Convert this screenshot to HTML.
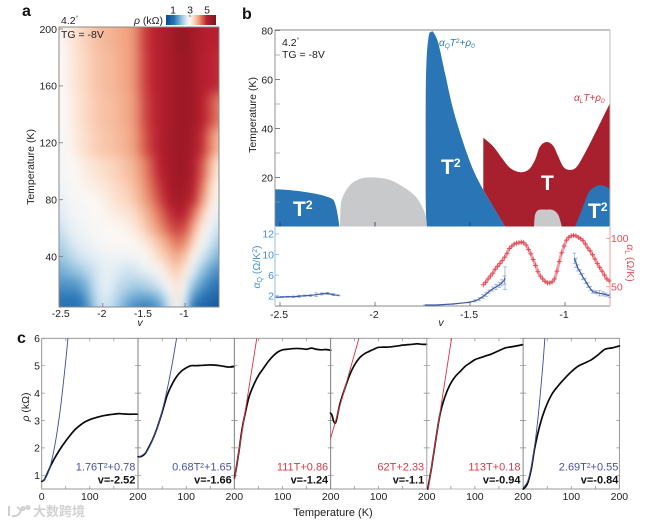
<!DOCTYPE html>
<html lang="en">
<head>
<meta charset="utf-8">
<title>Resistivity phase diagram</title>
<style>
html,body{margin:0;padding:0;background:#fff;}
svg{display:block;font-family:"Liberation Sans","Noto Sans CJK SC",sans-serif;}
text{fill:#222;font-size:10.5px;}
</style>
</head>
<body>
<svg id="fig" width="646" height="523" viewBox="0 0 646 523" xmlns="http://www.w3.org/2000/svg">
<defs>
<filter id="mapBlur" filterUnits="userSpaceOnUse" x="0" y="0" width="300" height="400" color-interpolation-filters="sRGB"><feGaussianBlur stdDeviation="4 5.5"/></filter>
<clipPath id="mapClip"><rect x="59" y="27" width="160" height="280"/></clipPath>
<linearGradient id="cbarGrad" x1="0" x2="1" y1="0" y2="0"></linearGradient>
</defs>

<text x="22" y="16" style="font-size:16px;font-weight:bold;fill:#111">a</text>
<text x="242" y="19" style="font-size:16px;font-weight:bold;fill:#111">b</text>
<text x="17" y="343" style="font-size:16px;font-weight:bold;fill:#111">c</text>

<g id="panelA">
<g clip-path="url(#mapClip)"><g id="mapCells" filter="url(#mapBlur)"></g></g>
<rect x="59" y="27" width="160" height="280" fill="none" stroke="#8a8a8a" stroke-width="1"/>
<rect x="166" y="15" width="50" height="10" fill="url(#cbarGrad)"/>
<text x="61" y="24">4.2<tspan dy="-4" style="font-size:6px">°</tspan></text>
<text x="61" y="38">TG = -8V</text>
<text x="134" y="24"><tspan font-style="italic">ρ</tspan> (kΩ)</text>
<text transform="translate(34,167) rotate(-90)" text-anchor="middle">Temperature (K)</text>
<text x="140" y="326" text-anchor="middle" font-style="italic">v</text>
</g>

<g id="panelB"></g>
<g>
<text x="293" y="216" style="font-size:21px;font-weight:bold;fill:#fff">T<tspan dy="-7" style="font-size:12px;fill:#fff">2</tspan></text>
<text x="441" y="174" style="font-size:21px;font-weight:bold;fill:#fff">T<tspan dy="-7" style="font-size:12px;fill:#fff">2</tspan></text>
<text x="588" y="218" style="font-size:21px;font-weight:bold;fill:#fff">T<tspan dy="-7" style="font-size:12px;fill:#fff">2</tspan></text>
<text x="541" y="190" style="font-size:21px;font-weight:bold;fill:#fff">T</text>
<text x="439" y="46" style="font-size:10px;font-style:italic;fill:#2a7ab8">α<tspan dy="2" style="font-size:6.5px;fill:#2a7ab8">Q</tspan><tspan dy="-2" style="fill:#2a7ab8">T</tspan><tspan dy="-3" style="font-size:6.5px;fill:#2a7ab8">2</tspan><tspan dy="3" style="fill:#2a7ab8">+ρ</tspan><tspan dy="2" style="font-size:6.5px;fill:#2a7ab8">0</tspan></text>
<text x="574" y="101" style="font-size:10px;font-style:italic;fill:#d23a46">α<tspan dy="2" style="font-size:6.5px;fill:#d23a46">L</tspan><tspan dy="-2" style="fill:#d23a46">T+ρ</tspan><tspan dy="2" style="font-size:6.5px;fill:#d23a46">0</tspan></text>
<text x="282" y="46">4.2<tspan dy="-4" style="font-size:6px">°</tspan></text>
<text x="282" y="58">TG = -8V</text>
<text transform="translate(256,115) rotate(-90)" text-anchor="middle">Temperature (K)</text>
<text x="441" y="326" text-anchor="middle" font-style="italic">v</text>
<text transform="translate(260,267) rotate(-90)" text-anchor="middle" style="font-size:10.5px;fill:#4a92c9"><tspan font-style="italic" style="fill:#4a92c9">α</tspan><tspan dy="2" style="font-size:7px;fill:#4a92c9">Q</tspan><tspan dy="-2" style="fill:#4a92c9"> (Ω/K</tspan><tspan dy="-3" style="font-size:7px;fill:#4a92c9">2</tspan><tspan dy="3" style="fill:#4a92c9">)</tspan></text>
<text transform="translate(627,263) rotate(90)" text-anchor="middle" style="font-size:10.5px;fill:#e0505c"><tspan font-style="italic" style="fill:#e0505c">α</tspan><tspan dy="2" style="font-size:7px;fill:#e0505c">L</tspan><tspan dy="-2" style="fill:#e0505c"> (Ω/K)</tspan></text>
</g>

<g id="panelC"></g>
<text x="333" y="516" text-anchor="middle" style="font-size:11px">Temperature (K)</text>
<text transform="translate(29,407) rotate(-90)" text-anchor="middle"><tspan font-style="italic">ρ</tspan> (kΩ)</text>

<g>
<path d="M9 506v10M12 516q7 1 9-6l-4-3M23 507a1.5 1.5 0 1 0 .1 0M28 506a1.5 1.5 0 1 0 .1 0" fill="none" stroke="#cfcfcf" stroke-width="2"/>
<text x="33" y="516" style="font-size:13px;font-weight:bold;fill:#d2d2d2;font-family:'Liberation Sans','Noto Sans CJK SC',sans-serif">大数跨境</text>
</g>
</svg>

<script>
// ---------- panel a data ----------
const mapV = [-2.5,-2.4,-2.3,-2.2,-2.1,-2.0,-1.9,-1.8,-1.7,-1.6,-1.5,-1.4,-1.3,-1.2,-1.1,-1.0,-0.9,-0.8,-0.7,-0.6];
const mapT = [200,170,140,120,100,90,80,70,60,50,40,30,20,10,4];
const mapRho = [
[3.05,3.2,3.4,3.55,3.7,3.8,3.85,3.95,4.0,4.2,4.7,4.95,5.1,5.3,5.6,5.7,5.4,5.2,5.05,5.0],
[3.0,3.15,3.35,3.5,3.65,3.75,3.8,3.9,4.0,4.2,4.65,4.95,5.1,5.3,5.5,5.6,5.4,5.1,5.0,4.9],
[3.0,3.1,3.3,3.45,3.6,3.7,3.75,3.85,3.95,4.15,4.6,4.9,5.1,5.3,5.5,5.55,5.4,5.1,4.7,4.3],
[2.95,3.05,3.25,3.4,3.55,3.65,3.7,3.8,3.9,4.1,4.5,4.85,5.1,5.35,5.5,5.55,5.3,4.9,4.3,3.8],
[2.9,3.0,3.05,3.2,3.3,3.4,3.5,3.6,3.75,3.9,4.2,4.6,5.0,5.3,5.55,5.5,5.15,4.6,3.9,3.2],
[2.85,2.95,3.0,3.1,3.15,3.25,3.35,3.5,3.6,3.8,4.1,4.45,4.85,5.2,5.5,5.4,5.05,4.4,3.6,3.05],
[2.8,2.9,2.95,3.0,3.02,3.1,3.25,3.4,3.5,3.7,4.0,4.3,4.7,5.1,5.4,5.3,4.9,4.15,3.4,2.95],
[2.65,2.85,2.9,2.95,3.0,3.05,3.12,3.2,3.3,3.45,3.75,4.05,4.4,4.8,5.05,4.95,4.4,3.65,3.1,2.75],
[2.5,2.75,2.85,2.9,2.95,3.0,3.02,3.05,3.1,3.25,3.55,3.85,4.15,4.5,4.75,4.6,3.95,3.2,2.85,2.5],
[2.3,2.55,2.7,2.8,2.9,2.95,3.0,3.0,3.0,3.05,3.2,3.45,3.75,4.05,4.35,4.15,3.5,2.95,2.6,2.2],
[2.1,2.3,2.5,2.6,2.7,2.8,2.85,2.85,2.85,2.9,3.0,3.15,3.45,3.7,3.95,3.65,3.05,2.6,2.2,1.85],
[1.8,1.95,2.1,2.3,2.5,2.7,2.7,2.6,2.5,2.55,2.7,2.85,3.05,3.35,3.6,3.2,2.7,2.1,1.7,1.45],
[1.5,1.5,1.6,1.9,2.4,2.7,2.65,2.4,2.3,2.2,2.25,2.4,2.6,2.95,3.3,2.85,2.1,1.6,1.3,1.1],
[1.2,1.15,1.2,1.6,2.3,2.6,2.5,2.2,1.9,1.7,1.65,1.7,2.0,2.6,3.2,2.6,1.5,1.1,0.95,0.8],
[1.05,1.0,1.05,1.4,2.1,2.5,2.4,2.0,1.6,1.35,1.25,1.3,1.6,2.4,3.1,2.4,1.1,0.8,0.65,0.5]
];
const mapXTicks = [-2.5,-2,-1.5,-1];
const mapYTicks = [40,80,120,160,200];
const cbarTicks = [1,3,5];
// ---------- panel b data ----------
const blueLeftV = [-2.526,-2.474,-2.395,-2.316,-2.263,-2.221,-2.205,-2.195,-2.187];
const blueLeftT = [15.2,15,14.4,13.4,12.4,11,8,4,0];
const grayV = [-2.184,-2.179,-2.158,-2.121,-2.068,-2.0,-1.921,-1.842,-1.779,-1.737,-1.726];
const grayT = [0,9.5,14,17.7,19.7,20,19,15.7,11.6,5.4,0];
const blueMainV = [-1.728,-1.733,-1.733,-1.728,-1.716,-1.705,-1.693,-1.667,-1.632,-1.588,-1.535,-1.483,-1.430,-1.377,-1.316];
const blueMainT = [0,10.8,51.6,69.2,78.2,79.4,79.3,74.9,62.7,47.6,34.1,23.1,14.9,8.1,0];
const redTopV = [-1.430,-1.377,-1.333,-1.289,-1.237,-1.193,-1.158,-1.132,-1.096,-1.062,-1.035,-1.009,-0.974,-0.938,-0.895,-0.833,-0.763];
const redTopT = [36.2,32.6,28,23.9,22.2,23.1,27.1,32.6,34.5,32.9,28.5,24.4,23.1,24.4,30,39.4,50.4];
const blueRightV = [-0.947,-0.912,-0.877,-0.842,-0.816,-0.780,-0.763];
const blueRightT = [0,6.7,13.7,16.2,16.9,16.2,14.9];
const graySmallV = [-1.163,-1.158,-1.141,-1.1,-1.062,-1.035,-1.017];
const graySmallT = [0,4.7,6.7,6.9,6.7,4.7,0];
const phaseYTicks = [20,40,60,80];
const phaseYMinor = [10,30,50,70];
const phaseXTicks = [-2.5,-2,-1.5,-1];
const alphaQTicks = [2,6,10,14];
const alphaQTickLabels = ['2','6','10','12'];
const alphaLTicks = [50,100];
const alphaQLeftV = [-2.52,-2.49,-2.46,-2.43,-2.40,-2.37,-2.34,-2.31,-2.28,-2.25,-2.22,-2.19];
const alphaQLeft = [1.7,1.75,1.8,1.8,1.9,2.0,2.05,2.2,2.35,2.45,2.2,2.05];
const alphaQLeftErr = [0.1,0.1,0.1,0.15,0.2,0.15,0.2,0.35,0.2,0.2,0.2,0.1];
const alphaQMidV = [-1.737,-1.679,-1.591,-1.504,-1.474,-1.451,-1.432,-1.416,-1.4,-1.381,-1.363,-1.346,-1.332,-1.319,-1.316];
const alphaQMid = [0.19,0.19,0.39,0.72,1.0,1.36,1.85,2.27,2.8,3.3,3.7,4.08,4.5,5.05,5.4];
const alphaQMidErr = [0.02,0.02,0.05,0.1,0.2,0.3,0.4,0.4,0.3,0.4,0.5,0.5,0.6,0.8,2.2];
const alphaQRightV = [-0.951,-0.942,-0.933,-0.92,-0.907,-0.893,-0.880,-0.867,-0.854,-0.836,-0.819,-0.80,-0.785,-0.767];
const alphaQRight = [9.26,8.4,7.38,6.6,5.69,4.9,4.08,3.4,2.78,2.65,2.47,2.35,2.2,2.0];
const alphaQRightErr = [1.0,0.9,0.6,0.5,0.6,0.5,0.5,0.4,0.3,0.3,0.5,0.4,0.3,0.3];
const alphaLV0 = -1.43;
const alphaLStep = 0.0125;
const alphaL = [52,54.5,58,61,64,68,71,74,77,80.5,84.5,89.5,92,94,95,95.5,96,95.5,93,88.5,84,78,72,65.5,61,58,55.5,54,54,55,58,66,76,85,92,98,101,102.5,103,102.5,101,99.5,97.5,94,90,87,83,78.5,74,70,66,62,58,56];
// ---------- panel c data ----------
const curveLabels = ['1.76T²+0.78','0.68T²+1.65','111T+0.86','62T+2.33','113T+0.18','2.69T²+0.55'];
const gateLabels = ['v=-2.52','v=-1.66','v=-1.24','v=-1.1','v=-0.94','v=-0.84'];
const curveTicksX = ['0','100','200'];
const curveTicksY = [1,2,3,4,5,6];
const temps1 = [0,5,10,15,20,30,40,50,60,70,80,90,100,110,120,130,140,150,160,170,180,190,200];
const rho1 = [0.78,0.83,1.0,1.2,1.4,1.72,2.0,2.25,2.48,2.68,2.83,2.95,3.03,3.09,3.14,3.18,3.21,3.23,3.25,3.24,3.23,3.23,3.23];
const temps2 = [0,5,10,15,20,30,40,50,60,70,80,90,100,110,120,130,140,150,160,170,180,190,200];
const rho2 = [1.68,1.68,1.72,1.8,1.95,2.3,2.75,3.3,3.9,4.3,4.6,4.8,4.92,5.0,5.0,5.01,5.02,5.03,5.02,5.0,4.97,4.95,4.97];
const temps3 = [0,5,10,15,20,30,40,50,60,70,80,90,100,110,120,130,140,150,160,170,180,190,200];
const rho3 = [0.9,1.4,1.97,2.6,3.08,3.85,4.3,4.65,4.9,5.15,5.35,5.5,5.58,5.6,5.62,5.63,5.62,5.6,5.64,5.6,5.58,5.59,5.56];
const temps4 = [0,3,6,9,12,20,30,40,50,60,70,80,90,100,120,140,150,170,180,190,200];
const rho4 = [3.27,3.2,3.0,2.9,3.0,3.63,4.18,4.67,5.03,5.28,5.43,5.52,5.6,5.67,5.68,5.72,5.75,5.78,5.8,5.78,5.78];
const temps5 = [2,10,20,28,38,48,59,70,80,90,100,118,135,150,163,180,200];
const rho5 = [0.5,1.3,2.45,3.27,3.88,4.3,4.6,4.8,4.98,5.1,5.22,5.33,5.43,5.55,5.65,5.7,5.77];
const temps6 = [0,5,10,17,24,35,45,59,72,87,100,114,128,142,156,170,185,200];
const rho6 = [0.5,0.58,0.75,1.25,2.0,2.85,3.4,3.94,4.25,4.55,4.78,4.98,5.1,5.22,5.4,5.6,5.65,5.72];
const fitT1 = [0,10,20,30,40,50,54.5];
const fitR1 = [0.78,0.956,1.484,2.364,3.596,5.18,6];
const fitT2 = [0,20,40,50,60,70,80];
const fitR2 = [1.65,1.92,2.74,3.35,4.1,4.98,6];
const fitT3 = [0,46.3];
const fitR3 = [0.86,6];
const fitT4 = [0,59.2];
const fitR4 = [2.33,6];
const fitT5 = [2.8,51.5];
const fitR5 = [0.5,6];
const fitT6 = [0,10,20,30,40,45];
const fitR6 = [0.55,0.82,1.63,2.97,4.85,6];

// ---------- helpers ----------
const NS = 'http://www.w3.org/2000/svg';
function add(parent, tag, attrs, txt) {
  const el = document.createElementNS(NS, tag);
  for (const k in attrs) el.setAttribute(k, attrs[k]);
  if (txt !== undefined) el.textContent = txt;
  parent.appendChild(el);
  return el;
}
function smooth(pts, t) {
  let d = 'M' + pts[0][0].toFixed(2) + ' ' + pts[0][1].toFixed(2);
  for (let i = 0; i < pts.length - 1; i++) {
    const p0 = pts[Math.max(i - 1, 0)], p1 = pts[i], p2 = pts[i + 1], p3 = pts[Math.min(i + 2, pts.length - 1)];
    const c1x = p1[0] + (p2[0] - p0[0]) * t, c1y = p1[1] + (p2[1] - p0[1]) * t;
    const c2x = p2[0] - (p3[0] - p1[0]) * t, c2y = p2[1] - (p3[1] - p1[1]) * t;
    d += 'C' + c1x.toFixed(2) + ' ' + c1y.toFixed(2) + ' ' + c2x.toFixed(2) + ' ' + c2y.toFixed(2) + ' ' + p2[0].toFixed(2) + ' ' + p2[1].toFixed(2);
  }
  return d;
}
const cmapRho = [0.3,1.2,2,2.6,3,3.5,4,4.5,5,5.6,6.1];
const cmapCol = [[15,76,143],[42,120,184],[143,192,222],[220,234,244],[251,248,245],[251,214,191],[241,165,131],[217,96,79],[185,32,48],[154,24,36],[127,21,32]];
function colorOf(v) {
  if (v <= cmapRho[0]) return 'rgb(' + cmapCol[0].join(',') + ')';
  for (let i = 0; i < cmapRho.length - 1; i++) {
    if (v <= cmapRho[i + 1]) {
      const f = (v - cmapRho[i]) / (cmapRho[i + 1] - cmapRho[i]);
      const c = cmapCol[i].map((a, j) => Math.round(a + (cmapCol[i + 1][j] - a) * f));
      return 'rgb(' + c.join(',') + ')';
    }
  }
  return 'rgb(' + cmapCol[cmapCol.length - 1].join(',') + ')';
}

// ---------- panel a ----------
const mapX = v => 185 + (v + 1) * 82.2;
const mapY = t => 29 + (200 - t) * 1.4225;
const cbarX = r => 173 + (r - 1) * 8.5;
const panelA = document.getElementById('panelA');
const mapCells = document.getElementById('mapCells');
mapT.forEach((t, r) => {
  const top = r === 0 ? 0 : mapY((t + mapT[r - 1]) / 2);
  const bot = r === mapT.length - 1 ? 340 : mapY((t + mapT[r + 1]) / 2);
  mapV.forEach((v, c) => {
    const left = c === 0 ? 20 : mapX(v - 0.05);
    const right = c === mapV.length - 1 ? 260 : mapX(v + 0.05);
    const cell = add(mapCells, 'rect', {x: left, y: top, width: right - left + 0.5, height: bot - top + 0.5, fill: colorOf(mapRho[r][c])});
    
    
  });
});
mapXTicks.forEach(v => {
  const tick = add(panelA, 'line', {x1: mapX(v), x2: mapX(v), y1: 303, y2: 307, stroke: '#777', 'stroke-width': 0.8});
  
  
  const lab = add(panelA, 'text', {x: mapX(v) - 1, y: 317, 'text-anchor': 'middle'}, String(v));
  
  
});
mapYTicks.forEach(t => {
  const tick = add(panelA, 'line', {x1: 59, x2: 63, y1: mapY(t), y2: mapY(t), stroke: '#777', 'stroke-width': 0.8});
  
  
  const lab = add(panelA, 'text', {x: 57, y: mapY(t) + 3.8, 'text-anchor': 'end'}, String(t));
  
  
});
const grad = document.getElementById('cbarGrad');
const domainLo = 0.2, domainHi = 6.1;
cmapRho.forEach((r, i) => {
  add(grad, 'stop', {offset: Math.max(0, (r - domainLo) / (domainHi - domainLo)), 'stop-color': 'rgb(' + cmapCol[i].join(',') + ')'});
});
cbarTicks.forEach(r => {
  const tick = add(panelA, 'line', {x1: cbarX(r), x2: cbarX(r), y1: 15, y2: 17, stroke: '#444', 'stroke-width': 0.7});
  
  
  const lab = add(panelA, 'text', {x: cbarX(r), y: 13.5, 'text-anchor': 'middle'}, String(r));
  
  
});

// ---------- panel b ----------
const phX = v => 280 + (v + 2.5) * 190;
const phY = t => 226.5 - t * 2.45;
const qY = a => 295.7 - (a - 2) * 5.15;
const lY = a => 238.3 + (100 - a) * 0.968;
const panelB = document.getElementById('panelB');
const pts = (vs, ts) => vs.map((v, i) => [phX(v), phY(ts[i])]);
const redPts = pts(redTopV, redTopT);
const red = add(panelB, 'path', {d: smooth(redPts, 0.17) + 'L' + phX(-0.763) + ' ' + phY(0) + 'L' + phX(-1.316) + ' ' + phY(0) + 'L' + phX(-1.43) + ' ' + phY(14.9) + 'Z', fill: '#a81f2e'});


const blueL = add(panelB, 'path', {d: smooth(pts(blueLeftV, blueLeftT), 0.15) + 'L' + phX(-2.526) + ' ' + phY(0) + 'Z', fill: '#2a75b5'});


const blueM = add(panelB, 'path', {d: smooth(pts(blueMainV, blueMainT), 0.15) + 'Z', fill: '#2a75b5'});


const blueR = add(panelB, 'path', {d: smooth(pts(blueRightV, blueRightT), 0.15) + 'L' + phX(-0.763) + ' ' + phY(0) + 'Z', fill: '#2a75b5'});


const gray1 = add(panelB, 'path', {d: smooth(pts(grayV, grayT), 0.15) + 'Z', fill: '#c8c9cb'});


const gray2 = add(panelB, 'path', {d: smooth(pts(graySmallV, graySmallT), 0.15) + 'Z', fill: '#c8c9cb'});



const frameTop = add(panelB, 'path', {d: 'M275 226.5V30H610', fill: 'none', stroke: '#888', 'stroke-width': 0.9});


const frameRight = add(panelB, 'line', {x1: 610, x2: 610, y1: 30, y2: 226.5, stroke: '#bbb', 'stroke-width': 1});


const axisB = add(panelB, 'line', {x1: 275, x2: 610, y1: 306, y2: 306, stroke: '#888', 'stroke-width': 0.9});


const axisQ = add(panelB, 'line', {x1: 275, x2: 275, y1: 227, y2: 306, stroke: '#a5cbe6', 'stroke-width': 1.2});


const axisL = add(panelB, 'line', {x1: 610, x2: 610, y1: 227, y2: 306, stroke: '#f2b8bc', 'stroke-width': 1.4});



phaseYTicks.forEach(t => {
  const tick = add(panelB, 'line', {x1: 275, x2: 280, y1: phY(t), y2: phY(t), stroke: '#666', 'stroke-width': 0.8});
  
  
  const lab = add(panelB, 'text', {x: 273, y: phY(t) + 3.8, 'text-anchor': 'end'}, String(t));
  
  
});
phaseYMinor.forEach(t => {
  const tick = add(panelB, 'line', {x1: 275, x2: 280, y1: phY(t), y2: phY(t), stroke: '#999', 'stroke-width': 0.7});
  
  
});
phaseXTicks.forEach(v => {
  const up = add(panelB, 'line', {x1: phX(v), x2: phX(v), y1: 222, y2: 226.5, stroke: '#335', 'stroke-width': 0.8});
  
  
  const low = add(panelB, 'line', {x1: phX(v), x2: phX(v), y1: 302, y2: 306, stroke: '#666', 'stroke-width': 0.8});
  
  
  const lab = add(panelB, 'text', {x: phX(v) - 1, y: 318, 'text-anchor': 'middle'}, String(v));
  
  
});
alphaQTicks.forEach((a, i) => {
  const tick = add(panelB, 'line', {x1: 275, x2: 279, y1: qY(a), y2: qY(a), stroke: '#8fbcdc', 'stroke-width': 0.8});
  
  
  const lab = add(panelB, 'text', {x: 274, y: qY(a) + 3.8, 'text-anchor': 'end', style: 'fill:#4a92c9'}, alphaQTickLabels[i]);
  
  
});
alphaLTicks.forEach(a => {
  const tick = add(panelB, 'line', {x1: 606, x2: 610, y1: lY(a), y2: lY(a), stroke: '#ea9aa0', 'stroke-width': 0.8});
  
  
  const lab = add(panelB, 'text', {x: 611, y: lY(a) + 3.8, style: 'fill:#e0505c'}, String(a));
  
  
});

function alphaSeries(vs, vals, errs, name) {
  vs.forEach((v, i) => {
    const x = phX(v);
    const eb = add(panelB, 'path', {d: 'M' + x + ' ' + qY(vals[i] - errs[i]) + 'V' + qY(vals[i] + errs[i]) + 'M' + (x - 1.8) + ' ' + qY(vals[i] + errs[i]) + 'h3.6M' + (x - 1.8) + ' ' + qY(vals[i] - errs[i]) + 'h3.6', stroke: '#8ea4d4', 'stroke-width': 0.7, fill: 'none'});
    
    
  });
  const line = add(panelB, 'polyline', {points: vs.map((v, i) => phX(v) + ',' + qY(vals[i])).join(' '), fill: 'none', stroke: '#3d5aa6', 'stroke-width': 1.2});
  
  
}
alphaSeries(alphaQLeftV, alphaQLeft, alphaQLeftErr, 'alpha-q-series-left');
alphaSeries(alphaQMidV, alphaQMid, alphaQMidErr, 'alpha-q-series-center');
alphaSeries(alphaQRightV, alphaQRight, alphaQRightErr, 'alpha-q-series-right');
const alphaLBand = add(panelB, 'polyline', {points: alphaL.map((a, i) => phX(alphaLV0 + i * alphaLStep) + ',' + lY(a)).join(' '), fill: 'none', stroke: '#f3a0a6', 'stroke-width': 3, 'stroke-linejoin': 'round'});


alphaL.forEach((a, i) => {
  const x = phX(alphaLV0 + i * alphaLStep), y = lY(a);
  const mark = add(panelB, 'path', {d: 'M' + (x - 2.5) + ' ' + y + 'h5M' + x + ' ' + (y - 2.5) + 'v5', stroke: '#e54a55', 'stroke-width': 0.9, fill: 'none'});
  
  
});

// ---------- panel c ----------
const panelC = document.getElementById('panelC');
const panelLeft = [41.7,138.1,234.5,330.5,426.8,523.2];
const panelW = 96.2;
const rhoY = r => 338.3 + (6 - r) * 27.4;
const curveT = [temps1,temps2,temps3,temps4,temps5,temps6];
const curveR = [rho1,rho2,rho3,rho4,rho5,rho6];
const fitT = [fitT1,fitT2,fitT3,fitT4,fitT5,fitT6];
const fitR = [fitR1,fitR2,fitR3,fitR4,fitR5,fitR6];
const fitCol = ['#3d4a9c','#3d4a9c','#d8343f','#d8343f','#d8343f','#3d4a9c'];
const labelCol = ['#4a52a0','#4a52a0','#dc3a46','#dc3a46','#dc3a46','#4a52a0'];
panelLeft.forEach((left, p) => {
  const tX = t => left + t / 200 * panelW;
  const frame = add(panelC, 'rect', {x: left, y: 338.3, width: panelW, height: 150.7, fill: 'none', stroke: p === 4 ? '#b5b5b5' : '#8d8d8d', 'stroke-width': 0.9});
  
  
  [50,100,150].forEach(t => {
    const tt = add(panelC, 'path', {d: 'M' + tX(t) + ' 338.3v3M' + tX(t) + ' 489v-3', stroke: '#888', 'stroke-width': 0.7});
    
    
  });
  curveTicksY.forEach(r => {
    const yt = add(panelC, 'path', {d: 'M' + left + ' ' + rhoY(r) + 'h3M' + (left + panelW) + ' ' + rhoY(r) + 'h-3', stroke: '#888', 'stroke-width': 0.7});
    
    
  });
  const data = curveT[p].map((t, i) => [tX(t), rhoY(curveR[p][i])]);
  const black = add(panelC, 'path', {d: smooth(data, 0.15), fill: 'none', stroke: '#0a0a0a', 'stroke-width': 1.7, 'stroke-linecap': 'round', 'stroke-linejoin': 'round'});
  
  
  const fitPts = fitT[p].map((t, i) => [tX(t), rhoY(fitR[p][i])]);
  const fit = add(panelC, 'path', {d: smooth(fitPts, 0.16), fill: 'none', stroke: fitCol[p], 'stroke-width': 0.9});
  
  
  const right = left + panelW - 2.5;
  const lab = add(panelC, 'text', {x: right + (p === 5 ? 1.5 : 0), y: 470.5, 'text-anchor': 'end', style: 'font-size:11px;fill:' + labelCol[p]}, curveLabels[p]);
  
  
  const gate = add(panelC, 'text', {x: right + (p === 5 ? 1.5 : 0), y: 483.5, 'text-anchor': 'end', style: 'font-size:11px;font-weight:bold;fill:#111'}, gateLabels[p]);
  
  
  curveTicksX.forEach((s, i) => {
    if (i === 0 && p > 0) return;
    const xl = add(panelC, 'text', {x: tX(i * 100), y: 500, 'text-anchor': 'middle'}, s);
    
    
  });
});
curveTicksY.forEach(r => {
  const yl = add(panelC, 'text', {x: 40, y: rhoY(r) + 3.8, 'text-anchor': 'end'}, String(r));
  
  
});
</script>
</body>
</html>
